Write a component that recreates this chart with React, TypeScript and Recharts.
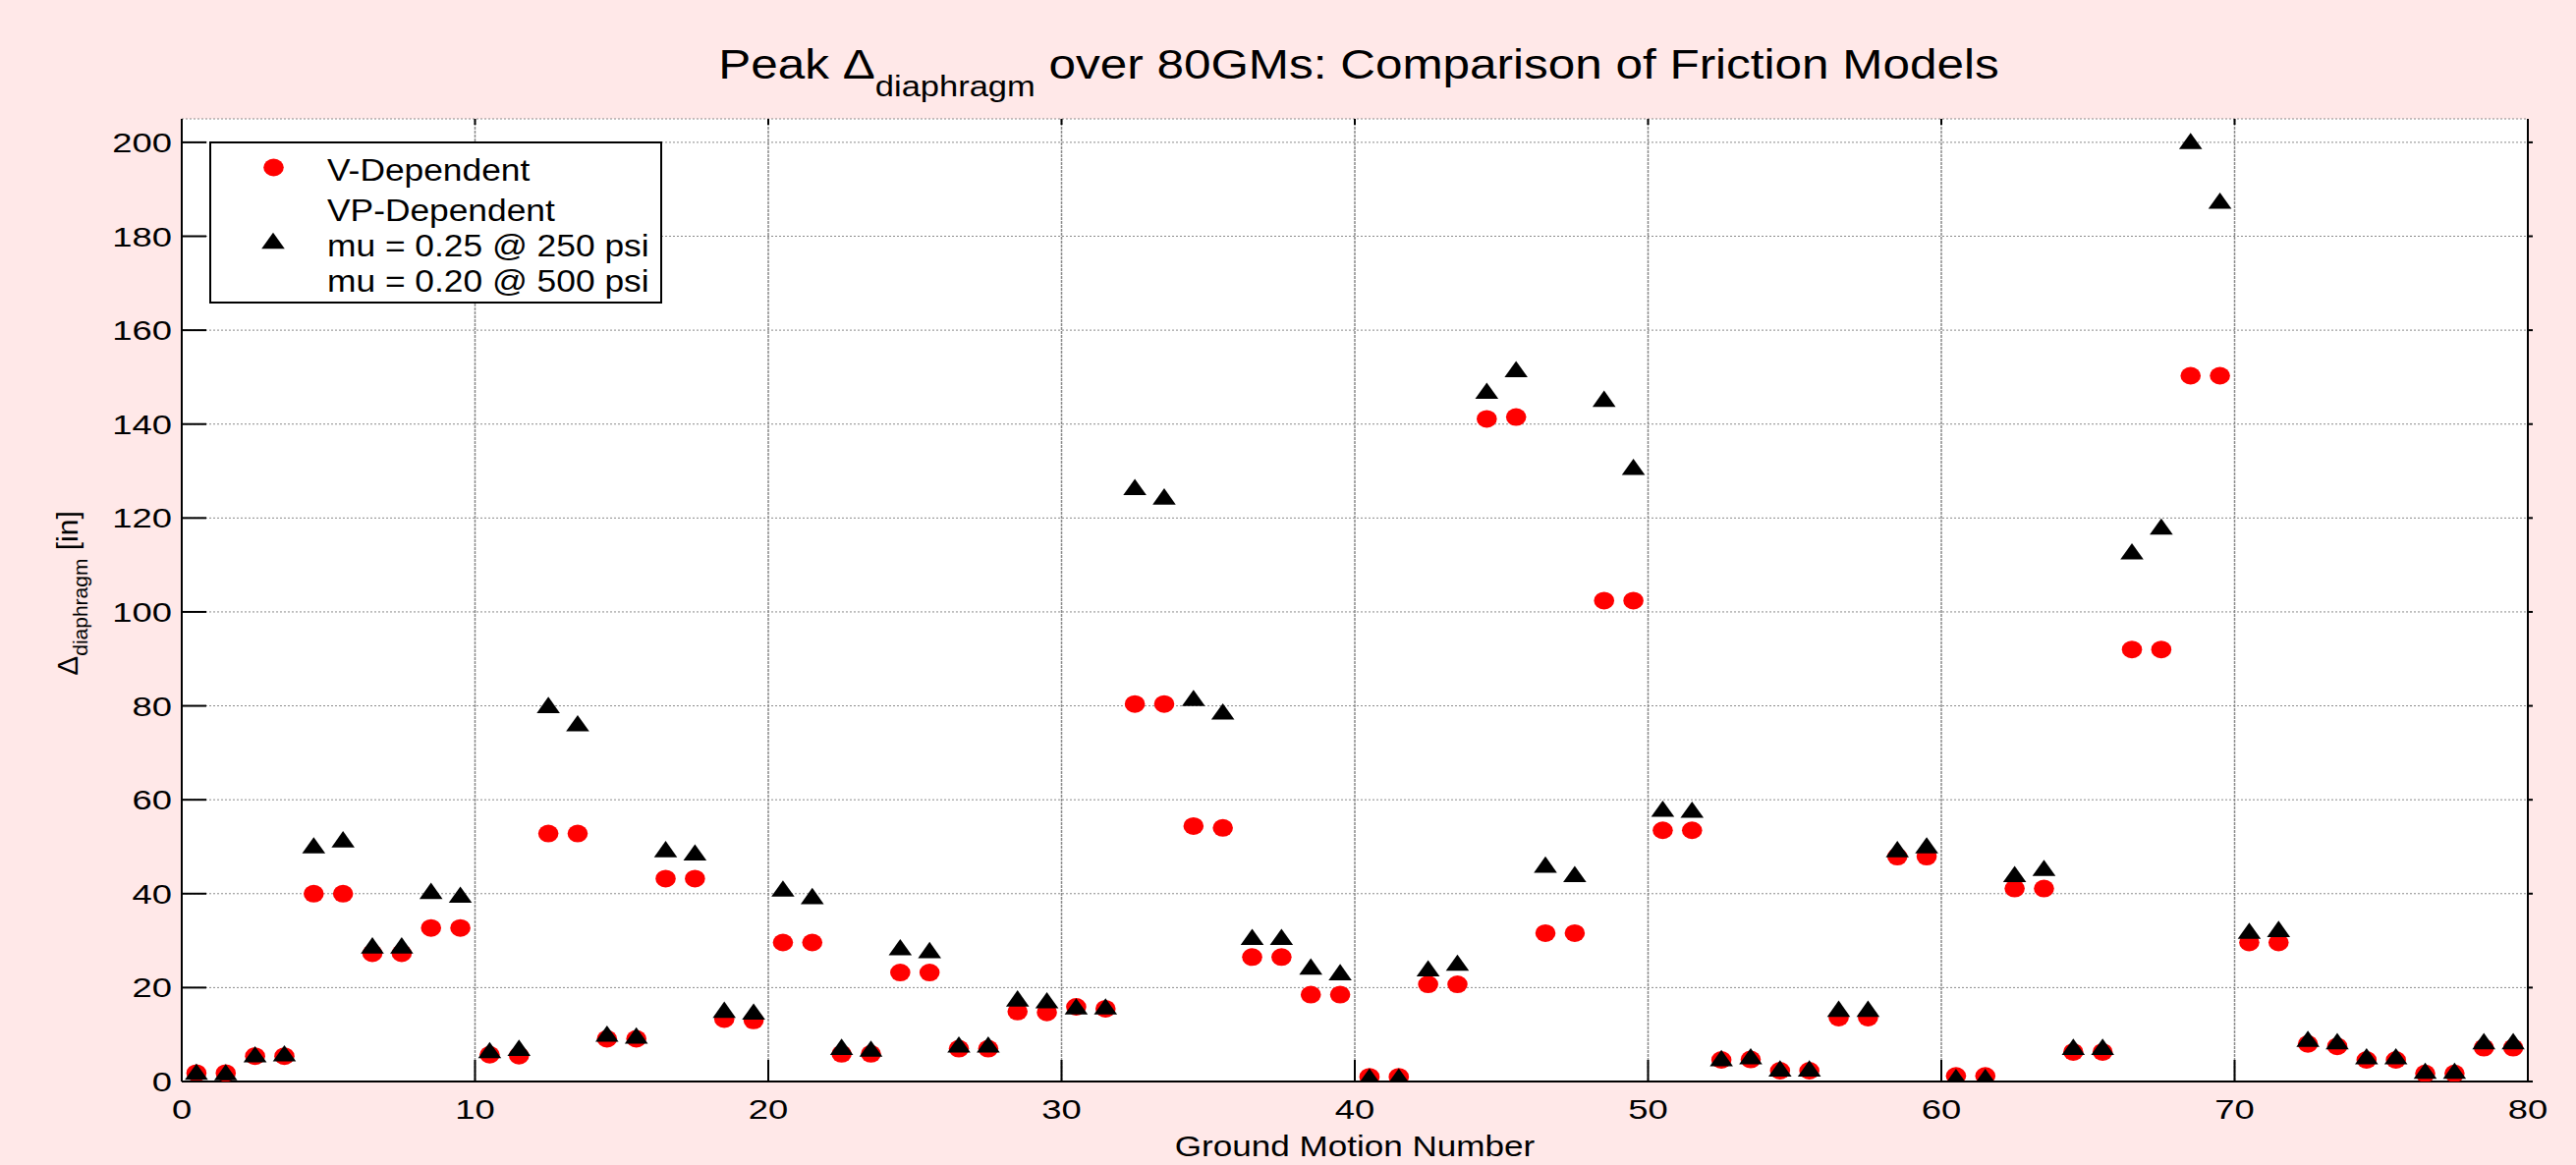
import React from 'react';
import { ScatterChart, Scatter, XAxis, YAxis, CartesianGrid, ReferenceLine } from 'recharts';

// ---------- data ----------
const gmNumbers: number[] = Array.from({ length: 80 }, (_, i) => i + 1);

const vDependent: number[] = [
  1.8, 1.8, 5.4, 5.4, 40.0, 40.0, 27.3, 27.3, 32.7, 32.7,
  5.7, 5.5, 52.8, 52.8, 9.1, 9.1, 43.2, 43.2, 13.3, 13.0,
  29.6, 29.6, 5.9, 5.9, 23.2, 23.2, 7.0, 7.0, 14.9, 14.7,
  15.9, 15.5, 80.4, 80.4, 54.4, 54.0, 26.5, 26.5, 18.5, 18.5,
  1.0, 1.0, 20.7, 20.7, 141.1, 141.5, 31.6, 31.6, 102.4, 102.4,
  53.5, 53.5, 4.6, 4.7, 2.3, 2.3, 13.6, 13.6, 47.9, 47.9,
  1.2, 1.2, 41.1, 41.1, 6.3, 6.3, 92.0, 92.0, 150.3, 150.3,
  29.6, 29.6, 8.0, 7.5, 4.6, 4.6, 1.7, 1.7, 7.2, 7.2,
];

const vpDependent: number[] = [
  2.1, 2.0, 5.8, 6.0, 50.3, 51.6, 29.0, 29.0, 40.6, 39.8,
  6.7, 7.2, 80.2, 76.3, 10.2, 9.8, 49.5, 48.8, 15.3, 14.9,
  41.1, 39.5, 7.4, 7.0, 28.6, 28.0, 7.9, 7.9, 17.7, 17.3,
  16.0, 16.0, 126.6, 124.6, 81.7, 78.8, 30.8, 30.8, 24.5, 23.3,
  1.1, 1.1, 24.1, 25.3, 147.1, 151.7, 46.2, 44.2, 145.4, 130.9,
  58.1, 57.9, 5.0, 5.4, 2.8, 2.8, 15.5, 15.5, 49.5, 50.3,
  1.0, 1.0, 44.2, 45.5, 7.4, 7.4, 112.9, 118.2, 200.3, 187.6,
  32.1, 32.5, 9.1, 8.6, 5.4, 5.4, 2.3, 2.3, 8.6, 8.6,
];

const xTicks: number[] = [0, 10, 20, 30, 40, 50, 60, 70, 80];
const yTicks: number[] = [0, 20, 40, 60, 80, 100, 120, 140, 160, 180, 200];

const seriesVName = 'V-Dependent';
const seriesVPLines: string[] = ['VP-Dependent', 'mu = 0.25 @ 250 psi', 'mu = 0.20 @ 500 psi'];

const titleMain = 'Peak \u0394';
const titleSub = 'diaphragm';
const titleRest = ' over 80GMs: Comparison of Friction Models';
const xLabel = 'Ground Motion Number';
const yLabelMain = '\u0394';
const yLabelSub = 'diaphragm';
const yLabelRest = ' [in]';

// ---------- derived table ----------
const vData = gmNumbers.map((gm, i) => ({ x: gm - 0.5, y: vDependent[i] }));
const vpData = gmNumbers.map((gm, i) => ({ x: gm - 0.5, y: vpDependent[i] }));

// ---------- layout ----------
const W = 2622;
const H = 1186;
const FONT = '"Liberation Sans", Arial, Helvetica, sans-serif';
const PLOT_W = 2388;
const PLOT_H = 980;
const BG = '#ffe8e8';

const RedDot = (props: any) => {
  const { cx, cy } = props;
  if (cx == null || cy == null) return null;
  return <ellipse cx={cx} cy={cy} rx={10.3} ry={9} fill="#ff0000" />;
};

const BlackTri = (props: any) => {
  const { cx, cy } = props;
  if (cx == null || cy == null) return null;
  return (
    <polygon
      points={`${cx},${cy - 8.3} ${cx - 11.8},${cy + 8.3} ${cx + 11.8},${cy + 8.3}`}
      fill="#000000"
    />
  );
};

const YTick = (props: any) => {
  const { x, y, payload } = props;
  const ax = x + 10;
  return (
    <g>
      <line x1={ax} y1={y} x2={ax + 25} y2={y} stroke="#000" strokeWidth={2} />
      <line x1={ax + PLOT_W} y1={y} x2={ax + PLOT_W + 5} y2={y} stroke="#000" strokeWidth={2} />
      <text
        transform={`translate(${x},${y + 10}) scale(1.3,1)`}
        textAnchor="end"
        fontSize={28}
        fontFamily={FONT}
        fill="#000"
      >
        {payload.value}
      </text>
    </g>
  );
};

const XTick = (props: any) => {
  const { x, y, payload } = props;
  return (
    <g>
      <line x1={x} y1={y} x2={x} y2={y - 22} stroke="#000" strokeWidth={2} />
      <line x1={x} y1={y - PLOT_H} x2={x} y2={y - PLOT_H + 6} stroke="#000" strokeWidth={2} />
      <text
        transform={`translate(${x},${y + 38}) scale(1.3,1)`}
        textAnchor="middle"
        fontSize={28}
        fontFamily={FONT}
        fill="#000"
      >
        {payload.value}
      </text>
    </g>
  );
};

export default function App() {
  return (
    <div style={{ position: 'absolute', left: 0, top: 0, width: W, height: H, background: BG, overflow: 'hidden' }}>
      <div style={{ position: 'absolute', left: 0, top: 0 }}>
        <ScatterChart width={W} height={H} margin={{ top: 121, right: 49, bottom: 45, left: 125 }}>
          <CartesianGrid
            horizontal={true}
            vertical={false}
            fill="#ffffff"
            stroke="#8a8a8a"
            strokeDasharray="2 2"
            strokeWidth={1}
          />
          <CartesianGrid
            horizontal={false}
            vertical={true}
            stroke="#8a8a8a"
            strokeDasharray="3 1"
            strokeWidth={1.5}
          />
          <XAxis
            type="number"
            dataKey="x"
            domain={[0, 80]}
            ticks={xTicks}
            interval={0}
            height={40}
            tickSize={0}
            tickMargin={0}
            tickLine={false}
            axisLine={{ stroke: '#000', strokeWidth: 2 }}
            tick={<XTick />}
            allowDataOverflow
          />
          <YAxis
            type="number"
            dataKey="y"
            domain={[0, 205]}
            ticks={yTicks}
            interval={0}
            width={60}
            tickSize={0}
            tickMargin={10}
            tickLine={false}
            axisLine={{ stroke: '#000', strokeWidth: 2 }}
            tick={<YTick />}
            allowDataOverflow
          />
          <ReferenceLine x={80} stroke="#000" strokeWidth={2} />
          <Scatter name={seriesVName} data={vData} shape={<RedDot />} isAnimationActive={false} />
          <Scatter name={seriesVPLines[0]} data={vpData} shape={<BlackTri />} isAnimationActive={false} />
        </ScatterChart>
      </div>
      <svg
        width={W}
        height={H}
        style={{ position: 'absolute', left: 0, top: 0, pointerEvents: 'none' }}
        fontFamily={FONT}
      >
        {/* title */}
        <text
          transform="translate(1383,80) scale(1.15,1)"
          textAnchor="middle"
          fontSize={43}
          fill="#000"
          style={{ whiteSpace: 'pre' }}
        >
          <tspan>{titleMain}</tspan>
          <tspan fontSize={30} dy={18}>{titleSub}</tspan>
          <tspan dy={-18}>{titleRest}</tspan>
        </text>
        {/* x label */}
        <text
          transform="translate(1379,1177) scale(1.17,1)"
          textAnchor="middle"
          fontSize={30}
          fill="#000"
        >
          {xLabel}
        </text>
        {/* y label */}
        <text
          transform="translate(79,604) rotate(-90)"
          textAnchor="middle"
          fontSize={30}
          fill="#000"
          style={{ whiteSpace: 'pre' }}
        >
          <tspan>{yLabelMain}</tspan>
          <tspan fontSize={21} dy={10}>{yLabelSub}</tspan>
          <tspan dy={-10}>{yLabelRest}</tspan>
        </text>
        {/* legend */}
        <rect x={214} y={145} width={459} height={163} fill="#ffffff" stroke="#000" strokeWidth={2} />
        <RedDot cx={278.5} cy={170.5} />
        <text transform="translate(333,183.5) scale(1.14,1)" fontSize={31} fill="#000">
          {seriesVName}
        </text>
        <BlackTri cx={278} cy={245} />
        {seriesVPLines.map((line, i) => (
          <text
            key={line}
            transform={`translate(333,${225 + i * 36}) scale(1.14,1)`}
            fontSize={31}
            fill="#000"
            style={{ whiteSpace: 'pre' }}
          >
            {line}
          </text>
        ))}
      </svg>
    </div>
  );
}
